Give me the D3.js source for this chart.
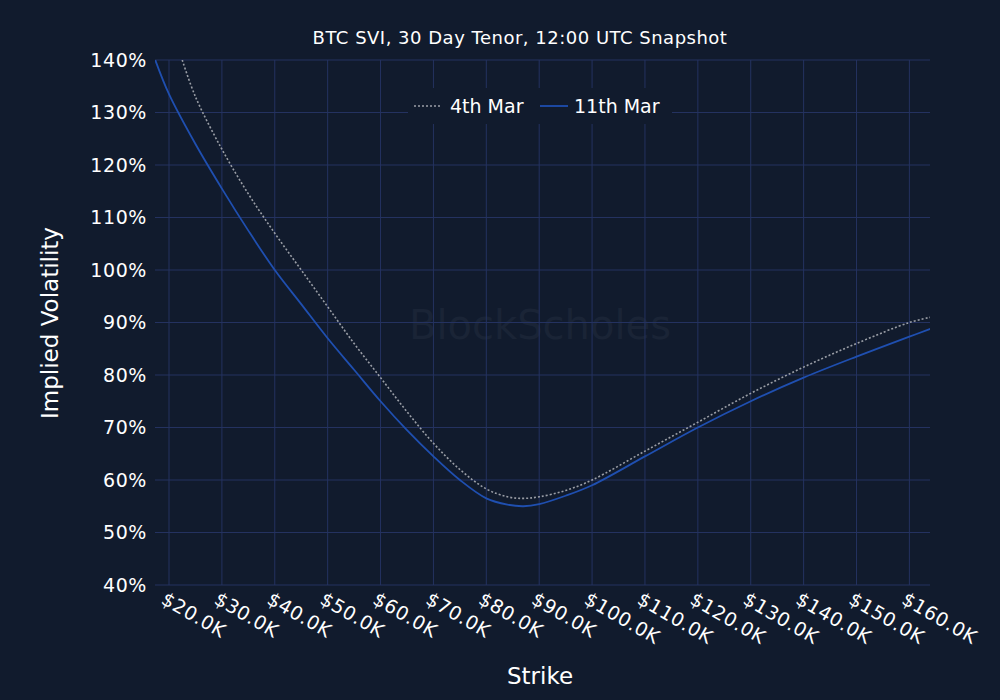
<!DOCTYPE html>
<html><head><meta charset="utf-8">
<script src="https://cdn.jsdelivr.net/npm/d3@7"></script>
<style>body{margin:0;background:#111b2d;font-family:"DejaVu Sans",sans-serif}</style>
</head><body>
<script>
// strikes in $K, vols in %
const strikes11 = [17.4, 20, 25, 30, 35, 40, 45, 50, 55, 60, 65, 70, 75, 80, 84, 87, 90, 95, 100, 110, 120, 130, 140, 150, 160, 164];
const vols11 = [140, 133.5, 124, 115.5, 107.5, 100, 93.5, 87, 81, 75, 69.5, 64.5, 60, 56.5, 55.3, 55, 55.4, 57, 59, 64.5, 70, 75, 79.5, 83.5, 87.3, 88.8];
const strikes4 = [22.5, 25, 30, 35, 40, 45, 50, 55, 60, 65, 70, 75, 80, 84, 87, 90, 95, 100, 110, 120, 130, 140, 150, 160, 164];
const vols4 = [140, 133, 123, 114.5, 107, 100, 93, 86, 79.5, 73, 67, 62, 58.3, 56.8, 56.5, 56.8, 58, 60, 65.5, 71, 76.5, 81.5, 86, 90, 91];
const xTicks = [20, 30, 40, 50, 60, 70, 80, 90, 100, 110, 120, 130, 140, 150, 160];
const yTicks = [40, 50, 60, 70, 80, 90, 100, 110, 120, 130, 140];

const width = 1000, height = 700;
const margin = {top: 60, left: 155, right: 70, bottom: 115};

const svg = d3.select("body").append("svg").attr("width", width).attr("height", height);

const x = d3.scaleLinear().domain([17.35, 163.9]).range([margin.left, width - margin.right]);
const y = d3.scaleLinear().domain([40, 140]).range([height - margin.bottom, margin.top]);

const grid = "#243260";

svg.append("text").attr("x", 540).attr("y", 328)
  .attr("text-anchor", "middle").attr("dominant-baseline", "middle")
  .style("font-size", "40px").style("fill", "#1a2436")
  .text("BlockScholes");

svg.append("g").selectAll("line").data(xTicks).enter().append("line")
  .attr("x1", d => x(d)).attr("x2", d => x(d))
  .attr("y1", margin.top).attr("y2", height - margin.bottom)
  .attr("stroke", grid);
svg.append("g").selectAll("line").data(yTicks).enter().append("line")
  .attr("x1", margin.left).attr("x2", width - margin.right)
  .attr("y1", d => y(d)).attr("y2", d => y(d))
  .attr("stroke", grid);

svg.append("g").selectAll("text").data(yTicks).enter().append("text")
  .attr("x", margin.left - 8).attr("y", d => y(d)).attr("dy", "0.35em")
  .attr("text-anchor", "end").style("fill", "#fff").style("font-size", "19px").style("letter-spacing", "0.6px")
  .text(d => d + "%");

svg.append("g").selectAll("text").data(xTicks).enter().append("text")
  .attr("transform", d => `translate(${x(d) - 9},${height - margin.bottom + 18}) rotate(30)`)
  .attr("text-anchor", "start").style("fill", "#fff").style("font-size", "19px").style("letter-spacing", "0.6px")
  .text(d => "$" + d.toFixed(1) + "K");

svg.append("text").attr("x", 540).attr("y", 684).attr("text-anchor", "middle")
  .style("fill", "#fff").style("font-size", "23px").text("Strike");
svg.append("text").attr("transform", "translate(58,323) rotate(-90)").attr("text-anchor", "middle")
  .style("fill", "#fff").style("font-size", "23px").text("Implied Volatility");
svg.append("text").attr("x", 520).attr("y", 44).attr("text-anchor", "middle")
  .style("fill", "#fff").style("font-size", "18px").style("letter-spacing", "0.5px").text("BTC SVI, 30 Day Tenor, 12:00 UTC Snapshot");

const line = d3.line().x(d => x(d[0])).y(d => y(d[1])).curve(d3.curveCatmullRom);
svg.append("defs").append("clipPath").attr("id", "clip").append("rect")
  .attr("x", margin.left).attr("y", margin.top)
  .attr("width", width - margin.right - margin.left).attr("height", height - margin.bottom - margin.top);

svg.append("path").datum(d3.zip(strikes4, vols4)).attr("d", line)
  .attr("clip-path", "url(#clip)")
  .attr("fill", "none").attr("stroke", "#9a9ea6").attr("stroke-width", 1.6).attr("stroke-dasharray", "2,2");
svg.append("path").datum(d3.zip(strikes11, vols11)).attr("d", line)
  .attr("clip-path", "url(#clip)")
  .attr("fill", "none").attr("stroke", "#1f4fb0").attr("stroke-width", 1.8);

// legend
const lg = svg.append("g").attr("transform", "translate(408,106)");
lg.append("rect").attr("x", 0).attr("y", -18).attr("width", 264).attr("height", 36).attr("fill", "#111b2d");
lg.append("line").attr("x1", 6).attr("x2", 34).attr("stroke", "#9a9ea6").attr("stroke-width", 1.6).attr("stroke-dasharray", "2,2");
lg.append("text").attr("x", 42).attr("dy", "0.35em").style("fill", "#fff").style("font-size", "19px").text("4th Mar");
lg.append("line").attr("x1", 132).attr("x2", 160).attr("stroke", "#1f4fb0").attr("stroke-width", 1.8);
lg.append("text").attr("x", 166).attr("dy", "0.35em").style("fill", "#fff").style("font-size", "19px").text("11th Mar");
</script>
</body></html>
